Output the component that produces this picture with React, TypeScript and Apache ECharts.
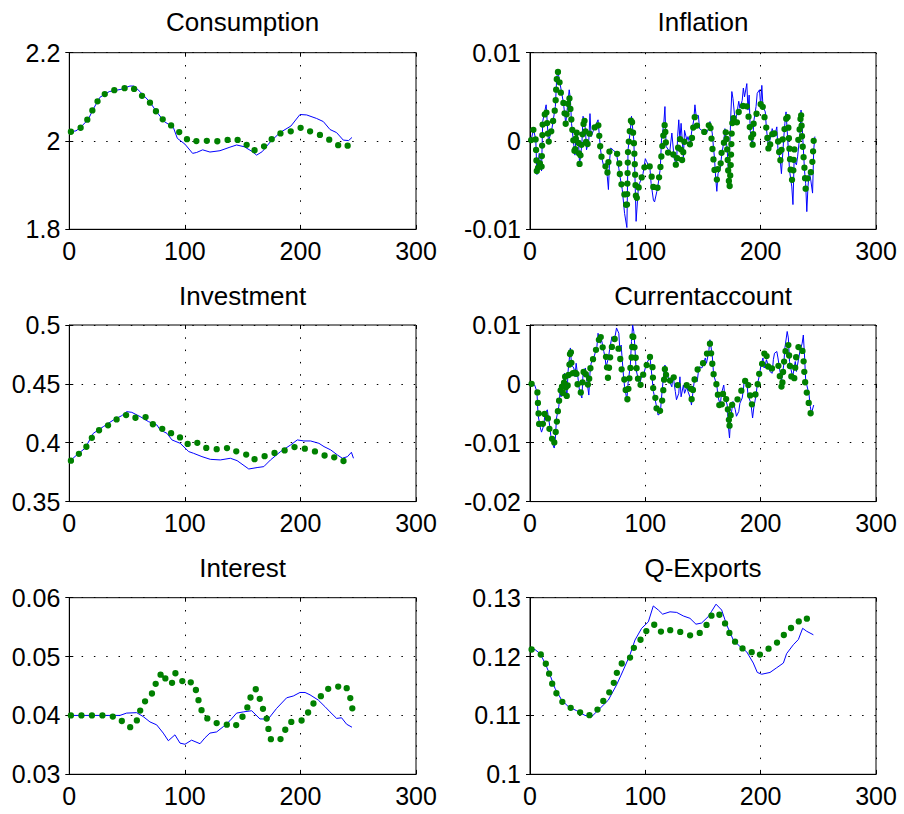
import React, { useEffect, useRef } from "react";
import * as echarts from "echarts";

// ---------- data: [period, value] ----------
const consumptionBlue: [number, number][] = [
  [1, 2.021], [5.8, 2.023], [9.8, 2.031], [16.4, 2.049], [21.1, 2.074], [26.5, 2.099], [34.6, 2.112], [44.7, 2.117],
  [52.5, 2.1245], [56, 2.1245], [61.1, 2.112], [69.5, 2.089], [75.6, 2.066], [82.2, 2.044], [90, 2.031], [93.5, 2.006],
  [100, 1.993], [106.7, 1.972], [110.2, 1.974], [115.4, 1.98], [121.7, 1.975], [130.4, 1.978], [139, 1.986], [144.8, 1.991],
  [151.4, 1.987], [158.4, 1.976], [162.1, 1.968], [167, 1.976], [173.9, 1.998], [182.3, 2.019], [191.8, 2.034], [199.6, 2.06],
  [205.4, 2.059], [214, 2.051], [219.8, 2.044], [225.6, 2.026], [231.3, 2.019], [237.1, 2.002], [241.7, 2.001], [244.6, 2.008],
];
const consumptionGreen: [number, number][] = [
  [1.4, 2.021], [9.8, 2.03], [16.4, 2.051], [21.1, 2.075], [26.5, 2.099], [34.6, 2.113], [44.7, 2.118], [53.9, 2.123],
  [61.7, 2.105], [69.5, 2.088], [75.6, 2.065], [82.2, 2.045], [90, 2.032], [96.9, 2.016], [104.4, 1.998], [113.4, 2.001],
  [122.3, 2.0], [132.4, 1.999], [141.9, 2.006], [151.4, 1.997], [158.4, 1.978], [167, 1.984], [173.9, 2.002], [182.3, 2.017],
  [191.8, 2.022], [201.3, 2.031], [210.6, 2.019], [220.1, 2.011], [227.9, 1.998], [236.2, 1.985], [244.6, 1.993],
];

const inflationBlue: [number, number][] = [
  [1, 0.0001], [3, 0.0013], [5, 0.0002], [6, -0.0038], [8, -0.0014], [10, -0.0034], [11, 0.0022], [13, 0.0035], [14, 0.0041],
  [16, -0.0001], [19, 0.0014], [22, 0.0039], [23, 0.0067], [24, 0.008], [25, 0.0073], [27, 0.0058], [29, 0.0043], [31, 0.002],
  [32, 0.0033], [34, 0.0058], [35, 0.0048], [36, 0.002], [38, -0.0005], [39, -0.0016], [40, 0.0012], [42, 0.0001], [43, -0.0027],
  [45, -0.0003], [46, 0.0028], [48, 0.0014], [49, -0.001], [51, 0.0001], [52, 0.0031], [53, 0.0005], [55, 0.0012], [57, 0.0018],
  [59, 0.0024], [61, -0.0008], [62, -0.0018], [64, -0.0029], [66, -0.0025], [67, -0.004], [68, -0.0055], [69, -0.0022], [70, -0.0008],
  [72, -0.001], [75, -0.0014], [77, -0.0031], [78, -0.004], [80, -0.0055], [82, -0.0082], [84, -0.0098], [85, -0.001], [87, 0.0012],
  [88, 0.0028], [90, 0.0001], [91, -0.004], [92, -0.0091], [94, -0.0052], [95, -0.0048], [98, -0.0037], [100, -0.002], [101, -0.0023],
  [104, -0.0031], [105, -0.0048], [107, -0.0067], [108, -0.0069], [110, -0.0057], [111, -0.005], [113, -0.0031], [114, 0.0001],
  [116, 0.002], [117, 0.0039], [118, -0.0006], [120, -0.001], [121, -0.0014], [123, 0.0009], [125, -0.002], [127, -0.0027],
  [128, 0.0005], [129, 0.0024], [130, 0.0001], [131, 0.002], [133, -0.0018], [134, 0.0012], [136, 0.0001], [137, 0.0005],
  [139, -0.0006], [140, 0.0009], [142, 0.0024], [143, 0.0041], [144, 0.0029], [146, 0.0029], [147, 0.0014], [149, 0.0012],
  [152, 0.0011], [153, 0.0009], [155, 0.0014], [156, 0.0022], [158, 0.0009], [159, -0.0006], [160, -0.002], [161, -0.0042],
  [162, -0.0057], [163, -0.0037], [165, -0.0031], [166, -0.0018], [168, -0.0001], [169, 0.0014], [171, -0.001], [172, -0.0035],
  [173, -0.0016], [174, 0.0026], [175, 0.0056], [176, 0.0048], [178, 0.002], [179, 0.0028], [181, 0.0045], [182, 0.0037],
  [184, 0.0046], [185, 0.006], [186, 0.005], [188, 0.0065], [189, 0.0035], [190, 0.0052], [191, 0.0011], [193, -0.0006],
  [194, 0.0022], [196, 0.0039], [197, 0.0054], [199, 0.0058], [200, 0.0039], [201, 0.0063], [202, 0.0039], [204, 0.0033],
  [205, 0.0014], [207, -0.001], [208, 0.0001], [210, 0.0014], [212, 0.0005], [214, 0.0016], [215, -0.001], [217, -0.0022],
  [218, -0.0037], [220, 0.0003], [221, 0.002], [222, 0.0033], [224, -0.001], [225, -0.0033], [227, -0.0052], [228, -0.0072],
  [229, -0.0022], [231, -0.0027], [232, -0.0018], [234, 0.0007], [235, 0.0035], [236, 0.0016], [238, -0.0033], [239, -0.0048],
  [240, -0.008], [241, -0.0052], [242, -0.0037], [243, -0.004], [245, -0.0059], [246, -0.001], [247, 0.0005],
];
const inflationGreen: [number, number][] = [
  [1, 0.0001], [3, 0.0013], [5, 0.0001], [6, -0.0038], [8, -0.0022], [10, -0.0033], [11, 0.0022], [13, 0.0031], [14, 0.0037],
  [16, -0.0002], [19, 0.0014], [22, 0.0039], [23, 0.0067], [24, 0.008], [25, 0.0073], [27, 0.0052], [29, 0.0043], [31, 0.0019],
  [32, 0.0035], [34, 0.0051], [35, 0.0037], [36, 0.0022], [38, -0.0005], [39, -0.0016], [40, 0.0012], [42, 0.0001], [43, -0.0027],
  [45, 0.0001], [47, 0.0027], [48, 0.0012], [49, -0.0008], [51, 0.0002], [52, 0.0012], [53, 0.0013], [55, 0.0012], [57, 0.0018],
  [59, 0.0022], [61, -0.0008], [62, -0.0018], [65, -0.0026], [67, -0.0038], [69, -0.001], [71, -0.0012], [74, -0.0013],
  [77, -0.0016], [78, -0.004], [80, -0.0054], [82, -0.0061], [84, -0.0078], [85, -0.001], [87, 0.0018], [88, 0.0028],
  [90, 0.0001], [91, -0.0031], [92, -0.0069], [94, -0.0054], [95, -0.0048], [98, -0.0037], [100, -0.0025], [103, -0.0026],
  [105, -0.0033], [106, -0.0048], [108, -0.0057], [110, -0.0057], [111, -0.005], [113, -0.0031], [114, -0.0016], [116, 0.0012],
  [117, 0.002], [118, -0.0008], [120, -0.0014], [122, -0.001], [124, -0.0014], [126, -0.0025], [127, -0.0029], [129, 0.0001],
  [130, 0.0003], [132, -0.0023], [134, 0.0001], [136, 0.0001], [138, 0.0001], [139, -0.0006], [141, 0.0007], [142, 0.0022],
  [143, 0.0028], [145, 0.0016], [147, 0.0012], [150, 0.0011], [153, 0.0009], [156, 0.0022], [158, -0.0006], [159, -0.002],
  [160, -0.0033], [161, -0.004], [162, -0.0044], [163, -0.0029], [165, -0.0031], [166, -0.0014], [168, -0.0003], [170, 0.0012],
  [171, -0.001], [172, -0.0038], [173, -0.0054], [174, -0.0029], [175, 0.0014], [176, 0.0029], [177, 0.0022], [179, 0.0018],
  [181, 0.0033], [183, 0.0039], [184, 0.0037], [186, 0.0045], [188, 0.0039], [189, 0.0033], [191, 0.0011], [193, -0.0006],
  [194, 0.0022], [197, 0.0033], [199, 0.0037], [201, 0.0046], [202, 0.0037], [204, 0.0022], [205, 0.0014], [207, -0.0012],
  [209, 0.0001], [211, 0.0014], [213, 0.0001], [215, 0.0001], [216, -0.0012], [217, -0.0023], [219, 0.0001], [221, 0.0016],
  [223, 0.0032], [224, 0.0016], [225, -0.001], [226, -0.0033], [227, -0.0044], [228, -0.0044], [229, -0.001], [231, -0.0006],
  [233, 0.0003], [234, 0.0016], [235, 0.0033], [236, 0.0001], [238, -0.0031], [239, -0.0054], [240, -0.0044], [242, -0.0038],
  [243, -0.004], [245, -0.0022], [246, 0.0001],
];

const investmentBlue: [number, number][] = [
  [1, 0.3848], [6.4, 0.3896], [13.6, 0.3953], [20.8, 0.408], [29.5, 0.4137], [38.2, 0.4193], [45.4, 0.423], [49.7, 0.4264],
  [54.1, 0.4258], [61.3, 0.4222], [68.6, 0.4179], [75.8, 0.4151], [78.7, 0.4108], [84.5, 0.408], [88.8, 0.4024], [96, 0.3995],
  [103.3, 0.3925], [107.6, 0.391], [114.8, 0.3882], [122, 0.3859], [130.7, 0.3854], [139.4, 0.3868], [145.2, 0.3848],
  [155.3, 0.3777], [162.5, 0.3789], [168.3, 0.3797], [174.1, 0.3854], [182.8, 0.3925], [191.5, 0.3981], [197.3, 0.4024],
  [203, 0.4015], [208.8, 0.4015], [216, 0.3995], [220.4, 0.3967], [226.2, 0.3939], [232, 0.3896], [236.3, 0.3868],
  [240.7, 0.3882], [244.1, 0.3919], [245.9, 0.3868],
];
const investmentGreen: [number, number][] = [
  [1.4, 0.3848], [7.8, 0.3902], [13.6, 0.3944], [17.9, 0.4024], [24.3, 0.4094], [29.5, 0.4137], [34.7, 0.4151], [40.5, 0.4196],
  [46.9, 0.423], [52.6, 0.4242], [58.4, 0.4205], [66.5, 0.4219], [72.9, 0.4151], [80.7, 0.4117], [85.9, 0.4108], [90.2, 0.4055],
  [98, 0.4041], [103.2, 0.3981], [110.5, 0.4001], [116.8, 0.3958], [124.9, 0.3947], [131.3, 0.3942], [138.8, 0.3961],
  [145.8, 0.3919], [153.3, 0.3899], [158.5, 0.3854], [164, 0.3874], [170.1, 0.3888], [175.9, 0.3911], [184.3, 0.3925],
  [190, 0.3953], [195.3, 0.3964], [200.8, 0.3958], [207.7, 0.3939], [215.2, 0.3919], [221.6, 0.3888], [226.8, 0.3894],
  [233.4, 0.3845], [238.6, 0.3845], [245.6, 0.3856],
];

const currentAccountBlue: [number, number][] = [
  [1, 0], [4, -0.0002], [6, -0.0013], [7, -0.0053], [9, -0.0075], [10, -0.0082], [12, -0.007], [13, -0.005], [15, -0.0044],
  [17, -0.007], [18, -0.0087], [20, -0.0104], [21, -0.0109], [22, -0.0092], [23, -0.0058], [25, -0.0038], [26, -0.0016],
  [27, -0.0022], [29, 0.0001], [30, 0.0018], [32, -0.0023], [33, 0.0021], [35, 0.0061], [36, 0.0032], [38, 0.0027], [39, 0.0012],
  [40, 0.0035], [42, 0.0004], [43, -0.0013], [45, -0.0024], [46, 0.0018], [48, 0.0027], [49, 0.001], [51, -0.0019], [52, 0.0018],
  [53, 0.0035], [55, 0.0044], [56, 0.0049], [58, 0.0063], [59, 0.0086], [61, 0.0069], [62, 0.0075], [64, 0.0055], [65, 0.0046],
  [66, 0.0029], [68, 0.0044], [69, 0.0058], [71, 0.008], [72, 0.0072], [74, 0.0083], [75, 0.0095], [77, 0.0086], [78, 0.0055],
  [79, 0.0066], [81, 0.0015], [82, -0.0005], [84, -0.0027], [85, 0.0001], [87, 0.0032], [88, 0.0072], [89, 0.01], [90, 0.0089],
  [91, 0.0061], [92, 0.0024], [94, 0.0007], [95, -0.0002], [97, 0.0015], [98, 0.0012], [100, 0.0027], [101, 0.0035], [103, 0.0041],
  [104, 0.0046], [105, 0.0027], [107, -0.0013], [108, -0.0022], [110, -0.0041], [111, -0.0053], [113, -0.005], [114, -0.0024],
  [116, 0.0018], [117, 0.0032], [118, 0.0024], [120, 0.001], [121, 0.0004], [123, -0.0005], [124, 0.0015], [126, -0.0013],
  [127, -0.0027], [129, -0.0016], [130, 0.0012], [131, -0.0022], [133, -0.0002], [134, -0.0016], [136, -0.0005], [137, -0.0013],
  [139, -0.0024], [140, -0.0036], [142, -0.0002], [143, 0.0012], [145, 0.0004], [146, 0.0021], [147, 0.0029], [149, 0.0027],
  [150, 0.0032], [152, 0.0044], [153, 0.0035], [155, 0.0055], [156, 0.0075], [158, 0.0049], [159, 0.0021], [160, 0.001],
  [162, -0.0002], [163, -0.0022], [165, -0.0036], [166, -0.0016], [168, -0.0002], [169, -0.0022], [171, -0.0036], [172, -0.0072],
  [173, -0.0092], [174, -0.0058], [176, -0.003], [178, -0.0044], [179, -0.0055], [181, -0.0047], [182, -0.0033], [184, -0.0024],
  [185, -0.001], [186, 0.001], [188, 0.0004], [189, -0.0019], [191, -0.003], [192, -0.0041], [193, -0.0058], [194, -0.0041],
  [196, -0.0019], [197, -0.0002], [199, 0.0015], [200, 0.0029], [202, 0.0044], [203, 0.0027], [204, 0.0032], [205, 0.0041],
  [207, 0.0029], [208, 0.0021], [210, 0.0018], [211, 0.0041], [212, 0.0052], [214, 0.0055], [215, 0.0044], [217, 0.0018],
  [218, 0.0004], [220, 0.0032], [221, 0.0061], [223, 0.0089], [224, 0.0078], [225, 0.0038], [227, 0.0018], [228, 0.0015],
  [230, 0.0038], [231, 0.0021], [233, 0.0044], [234, 0.0055], [236, 0.0069], [237, 0.0083], [238, 0.0049], [239, 0.0007],
  [240, -0.0002], [242, -0.0019], [243, -0.0038], [244, -0.005], [246, -0.0036],
];
const currentAccountGreen: [number, number][] = [
  [1.4, 0], [6.4, -0.0013], [6.9, -0.0033], [7.5, -0.0053], [8.1, -0.0074], [11, -0.0074], [11.6, -0.0053], [15, -0.0047],
  [15.9, -0.0067], [17.3, -0.0081], [18.8, -0.0087], [19.7, -0.0105], [21.4, -0.0098], [22.5, -0.0078], [23.7, -0.0057],
  [24.6, -0.0037], [26, -0.0018], [27.5, 0.0001], [28.3, -0.0019], [30.3, 0.0016], [31.8, -0.0022], [34.1, 0.0029],
  [34.7, 0.0052], [35.3, 0.0061], [36.1, 0.0028], [38.2, 0.001], [39.9, 0.0027], [41, 0.0001], [43.4, -0.0016], [44.8, -0.0013],
  [46.8, 0.0027], [48.6, 0.0015], [50.6, -0.0005], [52, 0.0021], [53.5, 0.0042], [55.5, 0.0042], [57.8, 0.0063], [59.5, 0.0072],
  [60.7, 0.0086], [62.1, 0.0072], [64.2, 0.0049], [65.9, 0.0046], [67.6, 0.001], [69.4, 0.0044], [70.8, 0.0061], [72.8, 0.0078],
  [74.6, 0.0073], [76.6, 0.0061], [78, 0.0048], [78.9, 0.0028], [81.5, 0.0012], [82.7, -0.0007], [84.4, -0.0027], [86.1, 0.0007],
  [87.3, 0.0032], [88.4, 0.0049], [89, 0.0089], [90.2, 0.0069], [91.6, 0.0046], [92.5, 0.0025], [93.9, 0.0005], [95.4, -0.0005],
  [97.7, 0.0012], [99.7, 0.0029], [101.2, 0.0032], [102.9, 0.0032], [104, 0.0046], [106.4, 0.0027], [106.9, -0.0016],
  [108.4, -0.0019], [109.8, -0.0043], [112.1, -0.0052], [114.5, -0.003], [115.6, -0.001], [117.1, 0.0029], [118.5, 0.0007],
  [119.9, 0.001], [122, 0.0004], [124.3, 0.0015], [125.7, -0.0002], [127.2, -0.0002], [129.5, -0.0002], [131.5, -0.0005],
  [132.9, -0.0002], [135.8, -0.0002], [137.3, -0.001], [139.3, -0.0005], [140.2, -0.0027], [141.6, -0.0005], [143.1, 0.0012],
  [146, 0.0028], [148.8, 0.0027], [151.7, 0.0046], [154.6, 0.0055], [156.1, 0.0069], [157.5, 0.0044], [159, 0.0018],
  [161.8, -0.0002], [163.3, -0.0024], [164.7, -0.0044], [166.2, -0.0036], [167.6, -0.0013], [169.9, -0.0024], [171.1, -0.0036],
  [172.3, -0.0055], [172.8, -0.0075], [174, -0.0053], [175.7, -0.003], [177.7, -0.0024], [180.6, -0.0027], [183.5, -0.001],
  [185.5, -0.0002], [187.3, 0.001], [189.3, -0.0002], [190.8, -0.0019], [192.2, -0.0036], [193.6, -0.0027], [195.4, -0.0019],
  [197.1, -0.0005], [198.8, 0.0018], [200.3, 0.0024], [201.7, 0.0039], [204, 0.0058], [205.8, 0.0041], [206.9, 0.0021],
  [208.7, 0.0021], [211, 0.0032], [213.3, 0.0029], [215.3, 0.0032], [216.8, 0.001], [218.5, -0.001], [219.7, 0.0029],
  [221.1, 0.0049], [222.5, 0.0069], [224, 0.0066], [225.4, 0.0029], [227.2, 0.0004], [228.9, 0.0004], [231.2, 0.0055],
  [233.5, 0.0066], [235.5, 0.0066], [237, 0.0046], [237.6, 0.0027], [238.4, 0.0005], [239.9, -0.0014], [241.9, -0.0035],
  [243.6, -0.0053], [245.7, -0.0046],
];

const interestBlue: [number, number][] = [
  [1, 0.04], [43.8, 0.04], [49.6, 0.0404], [58.3, 0.04047], [64, 0.0398], [69.8, 0.0389], [75.6, 0.0384], [81.3, 0.037],
  [85.7, 0.0357], [91.4, 0.0367], [95.8, 0.0353], [100.1, 0.0351], [105.8, 0.0358], [113.1, 0.0352], [117.4, 0.0362],
  [121.7, 0.037], [127.5, 0.0372], [133.3, 0.0381], [139, 0.0391], [144.8, 0.0404], [150.6, 0.0406], [157.8, 0.0408],
  [165, 0.0394], [172.2, 0.0394], [179.4, 0.0412], [188.1, 0.043], [193.8, 0.0433], [199.6, 0.0439], [204, 0.0439],
  [208.3, 0.0435], [215.5, 0.0426], [221.2, 0.0415], [225.6, 0.0406], [231.3, 0.0395], [235.6, 0.0396], [240, 0.0385],
  [244.6, 0.038],
];
const interestGreen: [number, number][] = [
  [1.4, 0.04], [11.5, 0.04], [22.2, 0.04], [32.9, 0.04], [42.7, 0.0396], [48.2, 0.0385], [53.6, 0.0379], [59.4, 0.0394],
  [62, 0.0413], [66.9, 0.0428], [72.4, 0.0439], [75.6, 0.0459], [80.5, 0.0474], [84.5, 0.0457], [88.5, 0.0453], [91.7, 0.0472],
  [96.3, 0.0461], [100.7, 0.0453], [103.5, 0.0457], [107.9, 0.0455], [110.7, 0.0435], [113.1, 0.0415], [116.8, 0.0398],
  [122.9, 0.0391], [128.6, 0.0386], [134.7, 0.0386], [140.5, 0.038], [144.8, 0.0384], [149.4, 0.0396], [152.9, 0.0409],
  [155.2, 0.0418], [157.5, 0.0436], [161.2, 0.0445], [163.8, 0.0436], [166.1, 0.0418], [170.5, 0.0398], [172.2, 0.0378],
  [174.5, 0.0359], [180, 0.0357], [182.9, 0.036], [187.2, 0.0377], [190.9, 0.0389], [195.3, 0.0389], [199.6, 0.039],
  [201.6, 0.0392], [205.7, 0.0401], [208.3, 0.0412], [212.6, 0.0424], [217.8, 0.0433], [222.7, 0.0444], [227.9, 0.0449],
  [233.6, 0.0449], [239.1, 0.0451], [242.9, 0.0432], [244.9, 0.0412],
];

const exportsBlue: [number, number][] = [
  [1, 0.1212], [4.3, 0.1212], [8.7, 0.1205], [13, 0.1189], [17.3, 0.1169], [21.7, 0.1146], [27.5, 0.1126], [33.2, 0.1115],
  [40.5, 0.1108], [47.7, 0.11], [53.5, 0.1098], [60.7, 0.1112], [67.9, 0.1126], [75.1, 0.1152], [80.9, 0.1177], [86.7, 0.1203],
  [91, 0.1228], [96.8, 0.1248], [102.6, 0.1259], [106.9, 0.1286], [111.3, 0.1279], [115, 0.1272], [121.4, 0.1276],
  [127.2, 0.1275], [132.9, 0.1269], [138.7, 0.1265], [143.9, 0.1255], [148.8, 0.1257], [154.6, 0.1268], [157.5, 0.1277],
  [161.3, 0.1289], [166.2, 0.1279], [170.5, 0.1254], [176.3, 0.1228], [182.1, 0.1217], [187.9, 0.1208], [193.6, 0.1189],
  [197.1, 0.1173], [200.9, 0.117], [208.1, 0.1173], [213.9, 0.1181], [219.7, 0.1189], [222.5, 0.1205], [228.3, 0.122],
  [232.7, 0.1229], [236.4, 0.1248], [239.9, 0.1243], [245.7, 0.1237],
];
const exportsGreen: [number, number][] = [
  [1.4, 0.1212], [9.2, 0.1204], [14.5, 0.1185], [17.3, 0.1166], [20.5, 0.1146], [26, 0.1127], [32.4, 0.1115], [40.5, 0.1109],
  [48.6, 0.1099], [56.4, 0.1103], [61.3, 0.1119], [67.6, 0.1135], [72.3, 0.1153], [75.4, 0.1173], [80.3, 0.1191], [86.7, 0.1198],
  [90.5, 0.1217], [97.4, 0.1232], [102.6, 0.1249], [108.7, 0.1255], [114.5, 0.124], [123.4, 0.1246], [130.1, 0.1242],
  [137.9, 0.1236], [145.7, 0.1237], [152.6, 0.1252], [157.5, 0.127], [161.8, 0.1276], [167.6, 0.1264], [171.4, 0.1245],
  [176.6, 0.1228], [182.7, 0.1214], [189.3, 0.1213], [196.2, 0.12], [202.9, 0.1207], [211, 0.122], [217.6, 0.1228],
  [222.5, 0.1245], [230.1, 0.1252], [235.8, 0.1267], [242.2, 0.1263],
];

const titles = ["Consumption", "Inflation", "Investment", "Currentaccount", "Interest", "Q-Exports"];
const xTicks = { min: 0, max: 300, interval: 100 };
const yRanges = [
  { min: 1.8, max: 2.2, interval: 0.2 },
  { min: -0.01, max: 0.01, interval: 0.01 },
  { min: 0.35, max: 0.5, interval: 0.05 },
  { min: -0.02, max: 0.01, interval: 0.01 },
  { min: 0.03, max: 0.06, interval: 0.01 },
  { min: 0.1, max: 0.13, interval: 0.01 },
];
const blueSeries = [consumptionBlue, inflationBlue, investmentBlue, currentAccountBlue, interestBlue, exportsBlue];
const greenSeries = [consumptionGreen, inflationGreen, investmentGreen, currentAccountGreen, interestGreen, exportsGreen];

// ---------- layout ----------
const COL_LEFT = [69.3, 530];
const COL_W = [346.7, 346];
const ROW_TOP = [52.7, 325, 597.7];
const ROW_H = 176.6;
const TITLE_Y = [22, 296, 568];
const FONT = "Liberation Sans, Arial, Helvetica, sans-serif";
const FS_TITLE = 26;
const FS_TICK = 25;

const fmt = (v: number) => String(parseFloat(v.toFixed(4)));

export default function App() {
  const ref = useRef<HTMLDivElement>(null);
  useEffect(() => {
    if (!ref.current) return;
    const chart = echarts.init(ref.current, null, { renderer: "svg" });
    const grids: any[] = [];
    const xAxes: any[] = [];
    const yAxes: any[] = [];
    const series: any[] = [];
    const graphics: any[] = [];
    const gridDash = [1.5, 10.8];
    for (let i = 0; i < 6; i++) {
      const r = Math.floor(i / 2);
      const c = i % 2;
      grids.push({
        left: COL_LEFT[c], top: ROW_TOP[r], width: COL_W[c], height: ROW_H,
        show: true, borderColor: "#000", borderWidth: 1, backgroundColor: "#fff",
      });
      const tick = { show: true, inside: true, length: 4, lineStyle: { color: "#000", width: 1 } };
      xAxes.push({
        type: "value", gridIndex: i, ...xTicks, position: "bottom",
        axisLine: { show: true, onZero: false, lineStyle: { color: "#000" } },
        axisTick: tick,
        axisLabel: { color: "#000", fontSize: FS_TICK, fontFamily: FONT, margin: 9, formatter: fmt },
        splitLine: { show: true, lineStyle: { color: "#000", width: 1, type: gridDash } },
      });
      xAxes.push({
        type: "value", gridIndex: i, ...xTicks, position: "top",
        axisLine: { show: false }, axisTick: tick, axisLabel: { show: false }, splitLine: { show: false },
      });
      yAxes.push({
        type: "value", gridIndex: i, ...yRanges[i], position: "left",
        axisLine: { show: true, onZero: false, lineStyle: { color: "#000" } },
        axisTick: tick,
        axisLabel: { color: "#000", fontSize: FS_TICK, fontFamily: FONT, margin: 9, formatter: fmt },
        splitLine: { show: true, lineStyle: { color: "#000", width: 1, type: gridDash } },
      });
      yAxes.push({
        type: "value", gridIndex: i, ...yRanges[i], position: "right",
        axisLine: { show: false }, axisTick: tick, axisLabel: { show: false }, splitLine: { show: false },
      });
      series.push({
        type: "line", xAxisIndex: 2 * i, yAxisIndex: 2 * i, data: blueSeries[i],
        symbol: "none", lineStyle: { color: "#0000ff", width: 1 }, z: 3,
      });
      series.push({
        type: "line", xAxisIndex: 2 * i, yAxisIndex: 2 * i, data: greenSeries[i],
        symbol: "none", lineStyle: { color: "#008000", width: 6.3, type: [0, 10.5], cap: "round", join: "round" }, z: 4,
      });
      graphics.push({
        type: "text", x: COL_LEFT[c] + COL_W[c] / 2, y: TITLE_Y[r],
        style: { text: titles[i], fill: "#000", fontSize: FS_TITLE, fontFamily: FONT, textAlign: "center", textVerticalAlign: "middle" },
      });
    }
    chart.setOption({
      animation: false,
      backgroundColor: "#fff",
      grid: grids, xAxis: xAxes, yAxis: yAxes, series, graphic: graphics,
    });
    return () => chart.dispose();
  }, []);
  return <div ref={ref} style={{ position: "absolute", left: 0, top: 0, width: 904, height: 814 }} />;
}
